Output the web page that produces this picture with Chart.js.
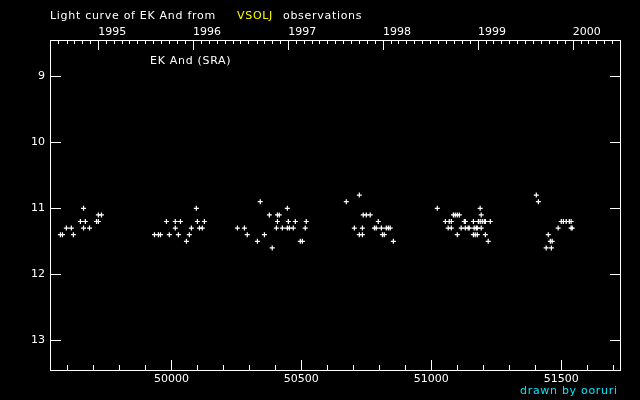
<!DOCTYPE html>
<html>
<head>
<meta charset="utf-8">
<script src="https://cdn.jsdelivr.net/npm/chart.js@4"></script>
<style>
  body { margin: 0; background: #000; }
  #wrap { position: relative; width: 640px; height: 400px; }
  .lbl { position: absolute; font: 11px "DejaVu Sans", sans-serif; line-height: 13px; color: #fff; white-space: nowrap; letter-spacing: 0.7px; }
</style>
</head>
<body>
<div id="wrap">
  <canvas id="lc" width="640" height="400"></canvas>
  <div class="lbl" style="left:50px; top:9px;">Light curve of EK And from</div>
  <div class="lbl" style="left:237px; top:9px; color:#ffff00;">VSOLJ</div>
  <div class="lbl" style="left:283px; top:9px;">observations</div>
  <div class="lbl" style="left:150px; top:54px;">EK And (SRA)</div>
  <div class="lbl" style="left:520px; top:384px; color:#00e8ff;">drawn by ooruri</div>
</div>
<script>
// JD - 2400000 of each visual estimate, and the magnitude
const jd = [
  49662, 49719, 49731, 49650, 49669, 49712, 49719, 49596, 49615, 49662, 49685, 49573, 49581, 49623,
  49981, 49935, 49950, 49958, 49992, 50096, 50015, 50035, 50100, 50127, 50015, 50077, 50108, 50119,
  50027, 50069, 50058,
  50342, 50446, 50377, 50408, 50415, 50408, 50450, 50477, 50519, 50254, 50281, 50404, 50427, 50446,
  50454, 50469, 50515, 50292, 50358, 50331, 50496, 50504, 50388,
  50723, 50673, 50738, 50750, 50765, 50796, 50704, 50735, 50781, 50788, 50808, 50827, 50835, 50842,
  50723, 50735, 50812, 50819, 50854,
  51023, 51188, 51085, 51092, 51100, 51108, 51192, 51054, 51069, 51077, 51127, 51131, 51162, 51181,
  51188, 51196, 51204, 51208, 51227, 51065, 51077, 51115, 51131, 51142, 51146, 51165, 51173, 51177,
  51192, 51100, 51162, 51169, 51177, 51208, 51219,
  51404, 51412, 51500, 51508, 51519, 51531, 51538, 51488, 51538, 51542, 51450, 51458, 51465, 51442,
  51462
];
const mag = [
  11.0, 11.1, 11.1, 11.2, 11.2, 11.2, 11.2, 11.3, 11.3, 11.3, 11.3, 11.4, 11.4, 11.4,
  11.2, 11.4, 11.4, 11.4, 11.4, 11.0, 11.2, 11.2, 11.2, 11.2, 11.3, 11.3, 11.3, 11.3,
  11.4, 11.4, 11.5,
  10.9, 11.0, 11.1, 11.1, 11.1, 11.2, 11.2, 11.2, 11.2, 11.3, 11.3, 11.3, 11.3, 11.3,
  11.3, 11.3, 11.3, 11.4, 11.4, 11.5, 11.5, 11.5, 11.6,
  10.8, 10.9, 11.1, 11.1, 11.1, 11.2, 11.3, 11.3, 11.3, 11.3, 11.3, 11.3, 11.3, 11.3,
  11.4, 11.4, 11.4, 11.4, 11.5,
  11.0, 11.0, 11.1, 11.1, 11.1, 11.1, 11.1, 11.2, 11.2, 11.2, 11.2, 11.2, 11.2, 11.2,
  11.2, 11.2, 11.2, 11.2, 11.2, 11.3, 11.3, 11.3, 11.3, 11.3, 11.3, 11.3, 11.3, 11.3,
  11.3, 11.4, 11.4, 11.4, 11.4, 11.4, 11.5,
  10.8, 10.9, 11.2, 11.2, 11.2, 11.2, 11.2, 11.3, 11.3, 11.3, 11.4, 11.5, 11.5, 11.6,
  11.6
];
const magTicks = [9, 10, 11, 12, 13];
const years = [1995, 1996, 1997, 1998, 1999, 2000];
const jdMin = 49533, jdMax = 51726;
const magMin = 8.45, magMax = 13.45;

const FONT = { family: 'DejaVu Sans', size: 11 };

// JD-2400000 of 0h UT on a calendar date
function jdOf(y, m) { return Date.UTC(y, m, 1) / 86400000 + 40587.5; }
function isYearStart(v) {
  const d = new Date((v - 40587.5) * 86400000);
  return d.getUTCMonth() === 0 && d.getUTCDate() === 1;
}

// frame and inward tick marks
const frameTicks = {
  id: 'frameTicks',
  afterDraw(chart) {
    const { ctx, chartArea: a, scales } = chart;
    ctx.save();
    ctx.strokeStyle = '#fff';
    ctx.lineWidth = 1;
    ctx.strokeRect(a.left + 0.5, a.top + 0.5, a.right - a.left, a.bottom - a.top);
    ctx.beginPath();
    scales.x.ticks.forEach(t => {
      const px = Math.round(scales.x.getPixelForValue(t.value)) + 0.5;
      const len = t.value % 500 === 0 ? 10 : 5;
      ctx.moveTo(px, a.bottom); ctx.lineTo(px, a.bottom - len);
    });
    scales.xTop.ticks.forEach(t => {
      const px = Math.round(scales.xTop.getPixelForValue(t.value)) + 0.5;
      const len = isYearStart(t.value) ? 10 : 4;
      ctx.moveTo(px, a.top); ctx.lineTo(px, a.top + len);
    });
    scales.y.ticks.forEach(t => {
      const py = Math.round(scales.y.getPixelForValue(t.value)) + 0.5;
      ctx.moveTo(a.left, py); ctx.lineTo(a.left + 11, py);
      ctx.moveTo(a.right, py); ctx.lineTo(a.right - 10, py);
    });
    ctx.stroke();
    ctx.restore();
  }
};

new Chart(document.getElementById('lc'), {
  type: 'scatter',
  data: {
    datasets: [{
      data: jd.map((x, i) => ({ x: x, y: mag[i] })),
      pointStyle: 'cross',
      radius: 2.5,
      borderColor: '#fff',
      borderWidth: 1.2,
      showLine: false
    }]
  },
  options: {
    responsive: false,
    animation: false,
    layout: { padding: { left: 0, right: 20, top: 0, bottom: 0 } },
    plugins: { legend: { display: false }, tooltip: { enabled: false } },
    scales: {
      x: {
        type: 'linear', position: 'bottom', min: jdMin, max: jdMax,
        grid: { display: false, drawTicks: false }, border: { display: false },
        afterBuildTicks: s => {
          const t = [];
          for (let v = Math.ceil(jdMin / 100) * 100; v <= jdMax; v += 100) t.push({ value: v });
          s.ticks = t;
        },
        ticks: {
          color: '#fff', font: FONT, padding: 3, maxRotation: 0, autoSkip: false,
          callback: v => (v % 500 === 0 ? String(v) : '')
        },
        afterFit: s => { s.height = 30; }
      },
      xTop: {
        type: 'linear', position: 'top', min: jdMin, max: jdMax,
        grid: { display: false, drawTicks: false }, border: { display: false },
        afterBuildTicks: s => {
          const t = [];
          for (let y = years[0] - 1; y <= years[years.length - 1]; y++) {
            for (let m = 0; m < 12; m++) {
              const v = jdOf(y, m);
              if (v >= jdMin && v <= jdMax) t.push({ value: v });
            }
          }
          s.ticks = t;
        },
        ticks: {
          color: '#fff', font: FONT, padding: 1, maxRotation: 0, autoSkip: false, align: 'start',
          callback: v => {
            if (!isYearStart(v)) return '';
            const yr = new Date((v - 40587.5) * 86400000).getUTCFullYear();
            return years.includes(yr) ? String(yr) : '';
          }
        },
        afterFit: s => { s.height = 40; }
      },
      y: {
        type: 'linear', reverse: true, min: magMin, max: magMax,
        grid: { display: false, drawTicks: false }, border: { display: false },
        afterBuildTicks: s => { s.ticks = magTicks.map(v => ({ value: v })); },
        ticks: { color: '#fff', font: FONT, padding: 5, callback: v => String(v) },
        afterFit: s => { s.width = 50; }
      }
    }
  },
  plugins: [frameTicks]
});
</script>
</body>
</html>
